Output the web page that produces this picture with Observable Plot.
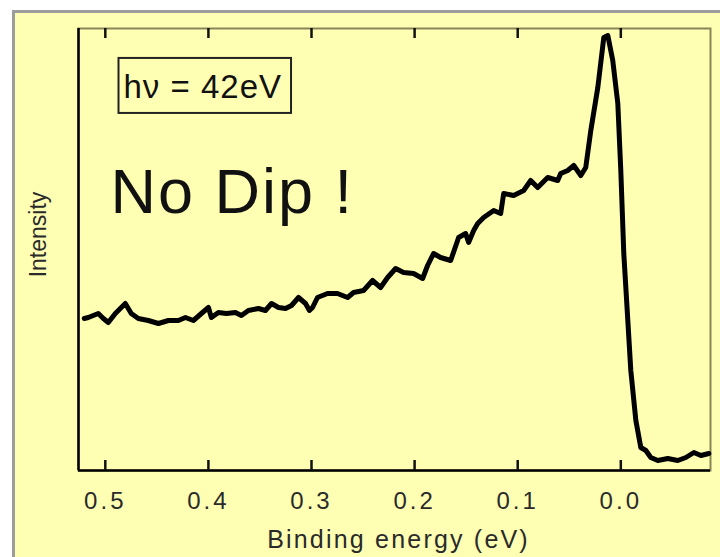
<!DOCTYPE html>
<html><head><meta charset="utf-8">
<script src="https://cdn.jsdelivr.net/npm/d3@7"></script>
<script src="https://cdn.jsdelivr.net/npm/@observablehq/plot@0.6"></script>
<style>
html,body{margin:0;padding:0;background:#fff;}
#wrap{position:relative;width:720px;height:557px;overflow:hidden;}
#bg{position:absolute;left:12px;top:10px;width:720px;height:560px;background:#FFFFB4;border-left:3px solid #9c9c9c;border-top:3px solid #9c9c9c;}
#chart{position:absolute;left:0;top:0;}
</style></head>
<body><div id="wrap"><div id="bg"></div><div id="chart"></div></div>
<script>
// Binding energy (eV) and intensity (arb. units)
const energy = [0.5204,0.5165,0.5068,0.5019,0.4971,0.4903,0.4806,0.4748,0.4680,0.4583,0.4485,0.4388,0.4291,0.4223,0.4146,0.4068,0.4000,0.3971,0.3903,0.3825,0.3738,0.3680,0.3612,0.3515,0.3447,0.3388,0.3320,0.3252,0.3194,0.3126,0.3058,0.3020,0.2990,0.2942,0.2845,0.2748,0.2650,0.2592,0.2495,0.2408,0.2330,0.2262,0.2184,0.2107,0.2010,0.1922,0.1874,0.1816,0.1748,0.1650,0.1573,0.1505,0.1476,0.1427,0.1388,0.1330,0.1233,0.1165,0.1136,0.1039,0.0942,0.0874,0.0806,0.0709,0.0612,0.0583,0.0515,0.0456,0.0388,0.0340,0.0291,0.0223,0.0165,0.0126,0.0078,0.0029,0.0000,-0.0029,-0.0068,-0.0097,-0.0146,-0.0194,-0.0243,-0.0291,-0.0359,-0.0456,-0.0553,-0.0631,-0.0709,-0.0777,-0.0854];
const intensity = [152,153,157,152,148,157,167,157,152,150,147,150,150,153,150,157,163,153,158,157,158,155,160,162,160,167,163,162,165,173,167,160,163,173,177,177,173,178,180,190,183,193,202,198,197,192,205,217,213,210,233,237,228,240,247,253,260,257,277,275,280,290,283,293,290,297,300,305,295,303,340,383,433,435,410,367,300,217,150,100,50,23,20,13,10,12,10,13,18,15,17];
const xTicks = [0.5, 0.4, 0.3, 0.2, 0.1, 0.0];
const xDomain = [0.526, -0.087];
const yDomain = [0, 442];
const tickLen = 10;
const xLabel = "Binding energy (eV)";
const yLabel = "Intensity";
const photonLabel = "hν = 42eV";
const noteLabel = "No Dip !";

const data = energy.map((e, i) => ({e, v: intensity[i]}));
const W = 720, H = 557, mt = 28, mb = 87, ml = 78, mr = 10;
const font = "'Liberation Sans', Arial, sans-serif";

const chart = Plot.plot({
  width: W, height: H,
  marginTop: mt, marginBottom: mb, marginLeft: ml, marginRight: mr,
  style: {background: "transparent", fontFamily: font, color: "#222"},
  x: {domain: xDomain},
  y: {domain: yDomain, axis: null},
  marks: [
    Plot.frame({stroke: "#8a8558", strokeWidth: 2}),
    Plot.ruleY([yDomain[0]], {stroke: "#000", strokeWidth: 2.5}),
    Plot.ruleX([xDomain[0]], {stroke: "#000", strokeWidth: 2.5}),
    Plot.axisX(xTicks, {tickSize: 0, tickPadding: 21, fontSize: 24, tickFormat: d3.format(".1f"), label: null, fill: "#2a2a2a"}),
    Plot.line(data, {x: "e", y: "v", stroke: "#000", strokeWidth: 5, strokeLinejoin: "round", strokeLinecap: "round"}),
    Plot.ruleX(xTicks, {y1: yDomain[0], y2: yDomain[0] + tickLen, stroke: "#111", strokeWidth: 2.5}),
    Plot.ruleX(xTicks, {y1: yDomain[1] - tickLen, y2: yDomain[1], stroke: "#111", strokeWidth: 2.5}),
    Plot.text([xLabel], {frameAnchor: "bottom", textAnchor: "middle", dx: 4, dy: 77, fontSize: 25, fill: "#2a2a2a", text: d => d}),
    Plot.text([yLabel], {frameAnchor: "left", textAnchor: "middle", lineAnchor: "middle", dx: -40, dy: -15, rotate: -90, fontSize: 23, fill: "#2a2a2a", text: d => d}),
    Plot.text([noteLabel], {frameAnchor: "top-left", textAnchor: "start", lineAnchor: "top", dx: 32, dy: 140, fontSize: 63, fill: "#111", text: d => d}),
    Plot.text([photonLabel], {frameAnchor: "top-left", textAnchor: "start", lineAnchor: "top", dx: 45, dy: 46, fontSize: 33, fill: "#111", text: d => d})
  ]
});
document.getElementById("chart").appendChild(chart);

const svg = d3.select(chart);
svg.selectAll("text").each(function() {
  const s = this.textContent;
  if (/^-?\d\.\d$/.test(s)) d3.select(this).style("letter-spacing", "3px");
  if (s === xLabel) d3.select(this).style("letter-spacing", "2.2px");
  if (s === noteLabel) d3.select(this).style("letter-spacing", "2px");
  if (s === photonLabel) {
    d3.select(this).style("letter-spacing", "1px");
    const bb = this.getBBox();
    d3.select(this.parentNode).insert("rect", "text")
      .attr("transform", this.getAttribute("transform"))
      .attr("x", bb.x - 5).attr("y", bb.y - 10)
      .attr("width", bb.width + 14).attr("height", bb.height + 18)
      .attr("fill", "none").attr("stroke", "#222").attr("stroke-width", 2);
  }
});
</script>
</body></html>
